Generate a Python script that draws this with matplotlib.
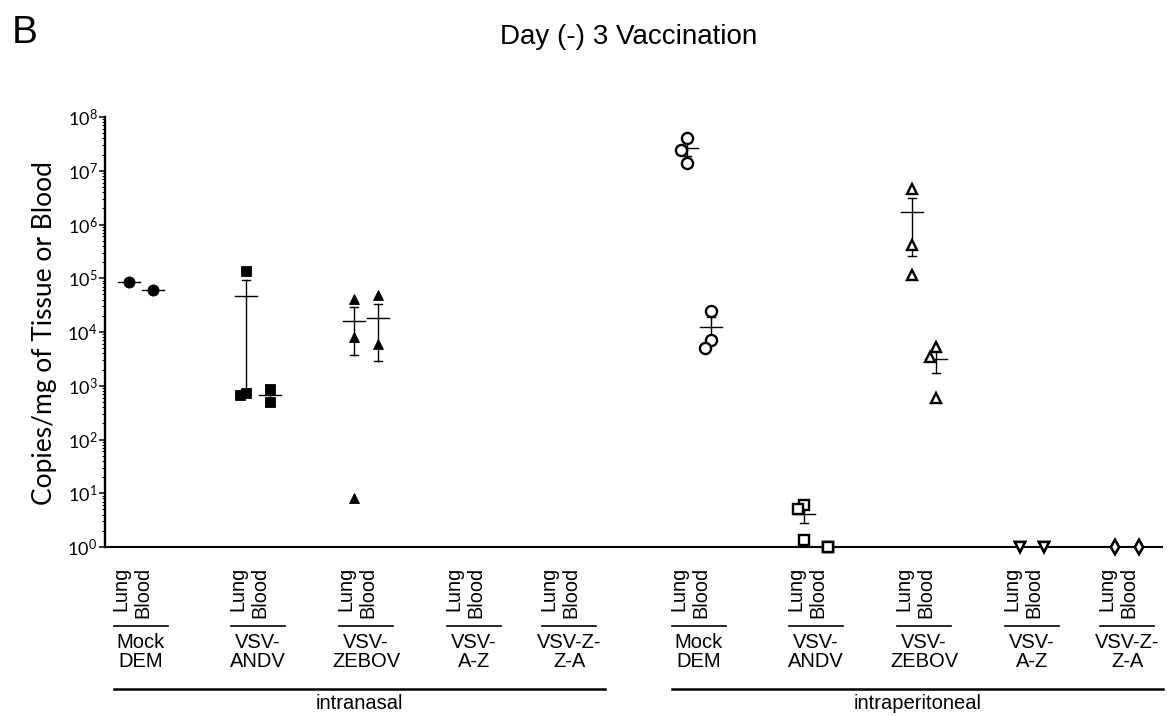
import numpy as np
import matplotlib
matplotlib.use("Agg")
import matplotlib.pyplot as plt
from matplotlib.lines import Line2D
from matplotlib.transforms import blended_transform_factory
from matplotlib.ticker import LogLocator, FuncFormatter, NullFormatter

plt.rcParams["font.family"] = ["Liberation Sans", "DejaVu Sans"]
plt.rcParams["mathtext.fontset"] = "custom"
plt.rcParams["mathtext.rm"] = "Lato"

# --- data (copies / mg, one value per animal; 0 = not detected) ---
groups = ["Mock\nDEM", "VSV-\nANDV", "VSV-\nZEBOV", "VSV-\nA-Z", "VSV-Z-\nZ-A"]
tissues = ["Lung", "Blood"]
routes = ["intranasal", "intraperitoneal"]

in_lung = [[84000], [138000, 745, 680], [40700, 7950, 8], [0, 0, 0], [0, 0, 0]]
in_blood = [[60000], [870, 490], [49000, 5900, 0], [0, 0, 0], [0, 0, 0]]
ip_lung = [[4.1e7, 2.4e7, 1.4e7], [6.0, 5.2, 1.35], [4.5e6, 4.2e5, 1.15e5], [1, 1, 1], [1, 1, 1]]
ip_blood = [[2.5e4, 7.1e3, 5.0e3], [1, 1, 1], [5200, 3500, 585], [1, 1, 1], [1, 1, 1]]

markers = {"intranasal": ["o", "s", "^", "v", "D"],
           "intraperitoneal": ["o", "s", "^", "v", "d"]}
msizes = [8, 7, 7.5, 7.5, 7]

# --- layout (figure pixels) ---
W, H = 1167, 716
x_left, x_right = 105, 1162
y_top, y_bot = 117, 547
group_x = [141, 258, 366, 474, 569]
route_shift = 558
pair_dx = 12

fig = plt.figure(figsize=(W / 100, H / 100), dpi=100)
ax = fig.add_axes([x_left / W, 1 - y_bot / H, (x_right - x_left) / W, (y_bot - y_top) / H])
ax.set_xlim(x_left, x_right)
ax.set_yscale("log")
ax.set_ylim(1, 1e8)


def swarm(vals, thr=0.24, step=6):
    """simple greedy horizontal spreading of nearby points"""
    placed = []
    for v in sorted(vals, reverse=True):
        same = [o for (pv, o) in placed if pv == v]
        if same:
            off = same[0]
        else:
            for off in [0, -step, step, -2 * step, 2 * step]:
                clash = any(abs(np.log10(pv) - np.log10(v)) < thr and o == off
                            for (pv, o) in placed)
                if not clash:
                    break
        placed.append((v, off))
    return placed


def draw_column(x0, vals, marker, ms, filled):
    vals = np.asarray(vals, dtype=float)
    n = len(vals)
    mean = vals.mean()
    if mean > 0:
        ax.plot([x0 - 11, x0 + 11], [mean, mean], color="black", lw=1.0, zorder=2)
        if n > 1:
            sem = vals.std(ddof=1) / np.sqrt(n)
            if sem > 0:
                lo, hi = max(mean - sem, 1), mean + sem
                ax.plot([x0, x0], [lo, hi], color="black", lw=1.0, zorder=2)
                for yv in (lo, hi):
                    ax.plot([x0 - 4, x0 + 4], [yv, yv], color="black", lw=1.0, zorder=2)
    pos = vals[vals > 0]
    for v, off in swarm(list(pos)):
        ax.plot(x0 + off, v, marker=marker, ms=ms, linestyle="none",
                markerfacecolor="black" if filled else "white",
                markeredgecolor="black", markeredgewidth=0.6 if filled else 1.7,
                zorder=3, clip_on=False)


for r, route in enumerate(routes):
    lung_data, blood_data = (in_lung, in_blood) if r == 0 else (ip_lung, ip_blood)
    for g in range(len(groups)):
        cx = group_x[g] + r * route_shift
        mk = markers[route][g]
        draw_column(cx - pair_dx, lung_data[g], mk, msizes[g], r == 0)
        draw_column(cx + pair_dx, blood_data[g], mk, msizes[g], r == 0)

# axes styling
for s in ["top", "right"]:
    ax.spines[s].set_visible(False)
ax.spines["left"].set_linewidth(1.7)
ax.spines["bottom"].set_linewidth(1.5)
ax.set_xticks([])
ax.yaxis.set_major_locator(LogLocator(base=10, numticks=12))
ax.yaxis.set_minor_locator(LogLocator(base=10, subs=np.arange(2, 10), numticks=12))
ax.yaxis.set_minor_formatter(NullFormatter())
ax.yaxis.set_major_formatter(FuncFormatter(lambda v, p: r"$\mathregular{10^{%d}}$" % round(np.log10(v))))
ax.tick_params(axis="y", which="major", length=4.5, width=1.1, pad=1, labelsize=13)
ax.tick_params(axis="y", which="minor", length=2.5, width=0.7)
for lab in ax.get_yticklabels():
    lab.set_fontfamily("Lato")

fig.text(45 / W, 1 - 333 / H, "Copies/mg of Tissue or Blood", rotation=90,
         ha="center", va="center", fontsize=19, family="Lato")

# category labels below the axis
tr = blended_transform_factory(ax.transData, fig.transFigure)
for r, route in enumerate(routes):
    centers = [gx + r * route_shift for gx in group_x]
    for g, cx in enumerate(centers):
        ax.text(cx - 20, 1 - 567 / H, tissues[0], rotation=90, ha="center", va="top",
                fontsize=14.3, transform=tr)
        ax.text(cx + 2, 1 - 567 / H, tissues[1], rotation=90, ha="center", va="top",
                fontsize=14.3, transform=tr)
        ax.add_line(Line2D([cx - 27, cx + 27], [1 - 626 / H] * 2, color="black",
                           lw=1.2, transform=tr, clip_on=False))
        ax.text(cx, 1 - 633 / H, groups[g], ha="center", va="top", fontsize=14.5,
                linespacing=0.97, transform=tr)
    x0, x1 = centers[0] - 27, centers[-1] + 36
    ax.add_line(Line2D([x0, x1], [1 - 689 / H] * 2, color="black", lw=1.8,
                       transform=tr, clip_on=False))
    ax.text((x0 + x1) / 2, 1 - 694 / H, route, ha="center", va="top",
            fontsize=14.5, transform=tr)

fig.text(629 / W, 1 - 44 / H, "Day (-) 3 Vaccination", ha="center", va="baseline", fontsize=20)
fig.text(12 / W, 1 - 43 / H, "B", ha="left", va="baseline", fontsize=28)

fig.savefig("out.png", dpi=100)
